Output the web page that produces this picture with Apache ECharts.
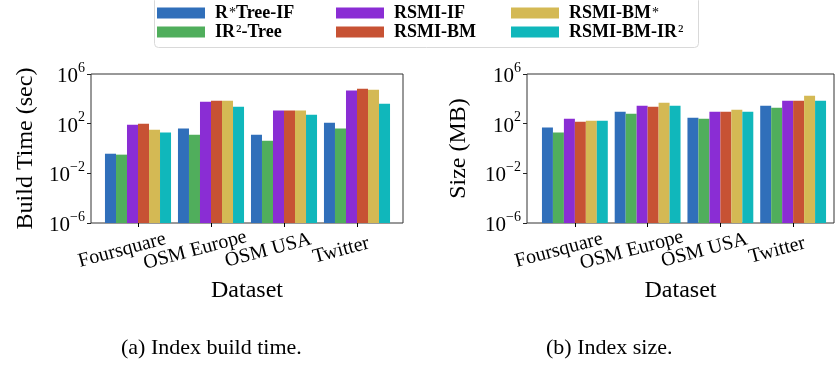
<!DOCTYPE html>
<html>
<head>
<meta charset="utf-8">
<script src="https://cdn.jsdelivr.net/npm/echarts@6/dist/echarts.min.js"></script>
<style>
  html, body { margin: 0; padding: 0; background: #fff; }
  #chart { width: 835px; height: 365px; }
</style>
</head>
<body>
<div id="chart"></div>
<script>
  const categories = ['Foursquare', 'OSM Europe', 'OSM USA', 'Twitter'];
  const seriesNames = ['R*Tree-IF', 'IR2-Tree', 'RSMI-IF', 'RSMI-BM', 'RSMI-BM*', 'RSMI-BM-IR2'];

  // (a) build time, sec
  const buildRtreeIF = [0.38, 40, 13, 120];
  const buildIR2Tree = [0.32, 13, 4.2, 40];
  const buildRsmiIF = [83, 5900, 1130, 46000];
  const buildRsmiBM = [100, 7100, 1130, 66000];
  const buildRsmiBMStar = [33, 7100, 1130, 55000];
  const buildRsmiBMIR2 = [19, 2350, 525, 4100];

  // (b) index size, MB
  const sizeRtreeIF = [48, 910, 300, 2800];
  const sizeIR2Tree = [19, 630, 250, 1950];
  const sizeRsmiIF = [250, 2800, 910, 7100];
  const sizeRsmiBM = [145, 2350, 910, 7100];
  const sizeRsmiBMStar = [175, 4900, 1350, 17800];
  const sizeRsmiBMIR2 = [175, 2800, 910, 7100];

  const yMin = 1e-6;
  const yMax = 1e6;
  const yStep = 4; // decades between tick labels

  const colors = ['#306fba', '#50ae5c', '#8a2dd4', '#c75234', '#d4b954', '#10b7bb'];
  const serif = 'Liberation Serif';

  const buildData = [buildRtreeIF, buildIR2Tree, buildRsmiIF, buildRsmiBM, buildRsmiBMStar, buildRsmiBMIR2];
  const sizeData = [sizeRtreeIF, sizeIR2Tree, sizeRsmiIF, sizeRsmiBM, sizeRsmiBMStar, sizeRsmiBMIR2];

  // legend labels with superscripts
  const legendText = {
    'R*Tree-IF': '{b|R}{s|*}{b|Tree-IF}',
    'IR2-Tree': '{b|IR}{n|²}{b|-Tree}',
    'RSMI-IF': '{b|RSMI-IF}',
    'RSMI-BM': '{b|RSMI-BM}',
    'RSMI-BM*': '{b|RSMI-BM}{s|*}',
    'RSMI-BM-IR2': '{b|RSMI-BM-IR}{n|²}'
  };

  function makeLegend(left, names) {
    return {
      orient: 'vertical',
      left: left,
      top: 4,
      padding: 0,
      itemGap: 1,
      itemWidth: 48,
      itemHeight: 11,
      icon: 'rect',
      data: names,
      formatter: function (name) { return legendText[name]; },
      textStyle: {
        padding: [0, 0, 0, 5],
        rich: {
          b: { fontFamily: serif, fontWeight: 'bold', fontSize: 18, lineHeight: 16, color: '#000' },
          n: { fontFamily: serif, fontSize: 18, lineHeight: 16, color: '#000', padding: [0, 0, 0, 1] },
          s: { fontFamily: serif, fontSize: 14, lineHeight: 16, color: '#000', padding: [0, 0, 0, 1] }
        }
      }
    };
  }

  function expLabel(v) {
    const e = Math.round(Math.log10(v));
    return '{n|10}{e|' + (e < 0 ? '\u2212' + (-e) : e) + '}';
  }

  // frame grid carries the visible y axis and the x axis name
  function frameAxes(gridIndex, yName, yGap) {
    const x = {
      gridIndex: gridIndex, type: 'value', min: 0, max: 1,
      axisLine: { show: false }, axisTick: { show: false },
      axisLabel: { show: false }, splitLine: { show: false },
      name: 'Dataset', nameLocation: 'middle', nameGap: 56,
      nameTextStyle: { fontFamily: serif, fontSize: 24, color: '#000' }
    };
    const y = {
      gridIndex: gridIndex, type: 'log', logBase: 10, min: yMin, max: yMax, interval: yStep,
      axisLine: { show: false },
      axisTick: { show: true, length: 4, lineStyle: { color: '#222' } },
      splitLine: { show: false },
      axisLabel: {
        margin: 6,
        formatter: expLabel,
        rich: {
          n: { fontFamily: serif, fontSize: 21, color: '#000', lineHeight: 26, verticalAlign: 'bottom' },
          e: { fontFamily: serif, fontSize: 14, color: '#000', lineHeight: 10, verticalAlign: 'top' }
        }
      },
      name: yName, nameLocation: 'middle', nameGap: yGap,
      nameTextStyle: { fontFamily: serif, fontSize: 24, color: '#000' }
    };
    return [x, y];
  }

  function barAxes(gridIndex) {
    const x = {
      gridIndex: gridIndex, type: 'category', data: categories,
      axisLine: { show: false },
      axisTick: { show: true, alignWithLabel: true, length: 4, lineStyle: { color: '#000' } },
      axisLabel: {
        interval: 0, hideOverlap: false,
        rotate: 15, align: 'center', verticalAlign: 'middle', margin: 23,
        padding: [0, 33, 0, 0],
        fontFamily: serif, fontSize: 20, color: '#000'
      }
    };
    const y = {
      gridIndex: gridIndex, type: 'log', logBase: 10, min: yMin, max: yMax,
      startValue: yMin, show: false
    };
    return [x, y];
  }

  const fa = frameAxes(0, 'Build Time (sec)', 53);
  const ba = barAxes(1);
  const fb = frameAxes(2, 'Size (MB)', 56);
  const bb = barAxes(3);

  let series = [];
  for (let i = 0; i < seriesNames.length; i++) {
    series.push({
      name: seriesNames[i], type: 'bar', xAxisIndex: 1, yAxisIndex: 1,
      barGap: '0%', barCategoryGap: '9.5%',
      itemStyle: { color: colors[i] },
      data: buildData[i]
    });
  }
  for (let i = 0; i < seriesNames.length; i++) {
    series.push({
      name: seriesNames[i], type: 'bar', xAxisIndex: 3, yAxisIndex: 3,
      barGap: '0%', barCategoryGap: '9.5%',
      itemStyle: { color: colors[i] },
      data: sizeData[i]
    });
  }

  const option = {
    backgroundColor: '#fff',
    animation: false,
    color: colors,
    title: [
      { text: '(a) Index build time.', left: 121, top: 337, padding: 0,
        textStyle: { fontFamily: serif, fontSize: 22, fontWeight: 'normal', color: '#000' } },
      { text: '(b) Index size.', left: 546, top: 337, padding: 0,
        textStyle: { fontFamily: serif, fontSize: 22, fontWeight: 'normal', color: '#000' } }
    ],
    legend: [
      makeLegend(157, ['R*Tree-IF', 'IR2-Tree']),
      makeLegend(336, ['RSMI-IF', 'RSMI-BM']),
      makeLegend(511, ['RSMI-BM*', 'RSMI-BM-IR2'])
    ],
    graphic: [{
      type: 'rect', left: 154, top: -4, z: -1,
      shape: { width: 544, height: 51, r: 4 },
      style: { fill: '#fff', stroke: '#d9d9d9', lineWidth: 1 }
    }],
    grid: [
      { left: 91, width: 312, top: 74, height: 149, show: true, borderColor: '#333', borderWidth: 1, backgroundColor: 'transparent' },
      { left: 101.5, width: 292, top: 74, height: 149 },
      { left: 527, width: 307, top: 74, height: 149, show: true, borderColor: '#333', borderWidth: 1, backgroundColor: 'transparent' },
      { left: 538.5, width: 291, top: 74, height: 149 }
    ],
    xAxis: [fa[0], ba[0], fb[0], bb[0]],
    yAxis: [fa[1], ba[1], fb[1], bb[1]],
    series: series
  };

  let chart = echarts.init(document.getElementById('chart'));
  chart.setOption(option);
</script>
</body>
</html>
